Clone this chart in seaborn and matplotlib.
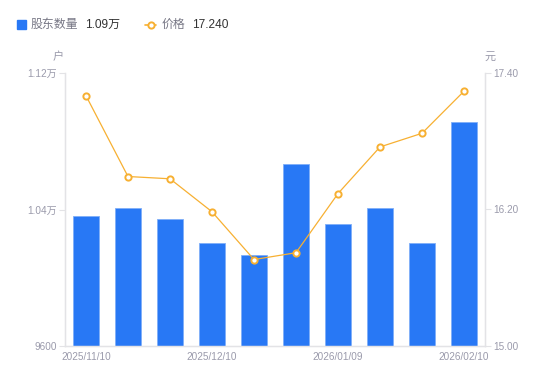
import numpy as np
import matplotlib
matplotlib.use("Agg")
import matplotlib.pyplot as plt
from matplotlib.lines import Line2D
from matplotlib.patches import Rectangle
import seaborn as sns

DATES = ["2025/11/10", "2025/11/20", "2025/11/30", "2025/12/10", "2025/12/20",
         "2025/12/31", "2026/01/09", "2026/01/20", "2026/01/31", "2026/02/10"]
HOLDERS = [10362, 10409, 10344, 10204, 10133, 10667, 10315, 10409, 10204, 10913]
PRICES = [17.20, 16.49, 16.47, 16.18, 15.76, 15.82, 16.34, 16.75, 16.87, 17.24]
SHOWN_TICKS = [0, 3, 6, 9]
LEFT_TICKS = [9600, 10400, 11200]
LEFT_LABELS = ["9600", "1.04万", "1.12万"]
RIGHT_TICKS = [15.00, 16.20, 17.40]

BLUE = "#2878F5"
ORANGE = "#F7B032"
GRAY_TXT = "#9A9AAB"
AXIS_CLR = "#E3E3E6"
FONTS = ["Liberation Sans", "Noto Sans CJK SC", "DejaVu Sans"]

sns.set_theme(style="white")
plt.rcParams["font.family"] = FONTS

fig = plt.figure(figsize=(5.5, 3.81), dpi=100)
ax = fig.add_axes([65 / 550, 1 - 346 / 381, 420 / 550, 273 / 381])

x = np.arange(len(DATES))
sns.barplot(x=x, y=HOLDERS, color=BLUE, width=0.6, saturation=1,
            edgecolor="#7FAEF8", linewidth=0.6, ax=ax)
ax.set_xlim(-0.5, len(DATES) - 0.5)
ax.set_ylim(9600, 11200)
ax.set_yticks(LEFT_TICKS)
ax.set_yticklabels(LEFT_LABELS)
ax.set_xticks(SHOWN_TICKS)
ax.set_xticklabels([DATES[i] for i in SHOWN_TICKS])
ax.tick_params(axis="y", colors=AXIS_CLR, labelcolor=GRAY_TXT, labelsize=7.2,
               length=4, width=0.8, pad=2)
ax.tick_params(axis="x", colors=AXIS_CLR, labelcolor=GRAY_TXT, labelsize=7.2,
               length=0, pad=4)

ax2 = ax.twinx()
sns.lineplot(x=x, y=PRICES, color=ORANGE, linewidth=0.9, ax=ax2,
             marker="o", markersize=4.5, markerfacecolor="white",
             markeredgecolor=ORANGE, markeredgewidth=1.4)
ax2.set_ylim(15.0, 17.4)
ax2.set_yticks(RIGHT_TICKS)
ax2.set_yticklabels([f"{v:.2f}" for v in RIGHT_TICKS])
ax2.tick_params(axis="y", colors=AXIS_CLR, labelcolor=GRAY_TXT, labelsize=7.2,
                length=4, width=0.8, pad=2)
ax2.set_ylabel("")

for a in (ax, ax2):
    a.grid(False)
    a.spines["top"].set_visible(False)
    for s in ("left", "right", "bottom"):
        a.spines[s].set_color(AXIS_CLR)
        a.spines[s].set_linewidth(0.9)

# unit labels
fig.text(58 / 550, 1 - 57 / 381, "户", color=GRAY_TXT, fontsize=8,
         ha="center", va="center", family=FONTS)
fig.text(490 / 550, 1 - 57 / 381, "元", color=GRAY_TXT, fontsize=8,
         ha="center", va="center", family=FONTS)

# legend
ly = 1 - 25 / 381
fig.add_artist(Rectangle((17 / 550, 1 - 29 / 381), 9 / 550, 9 / 381,
                         transform=fig.transFigure, color=BLUE))
fig.text(31 / 550, ly, "股东数量", color="#777785", fontsize=8.6, va="center",
         family=FONTS)
fig.text(85 / 550, ly, "1.09万", color="#333333", fontsize=8.6, va="center",
         family=FONTS)
fig.add_artist(Line2D([145 / 550, 156 / 550], [ly, ly], transform=fig.transFigure,
                      color=ORANGE, linewidth=1.2))
fig.add_artist(Line2D([150.5 / 550], [ly], transform=fig.transFigure, marker="o",
                      markersize=4.5, markerfacecolor="white",
                      markeredgecolor=ORANGE, markeredgewidth=1.4))
fig.text(162 / 550, ly, "价格", color="#777785", fontsize=8.6, va="center",
         family=FONTS)
fig.text(192 / 550, ly, "17.240", color="#333333", fontsize=8.6, va="center",
         family=FONTS)

fig.savefig("out.png", dpi=100)
